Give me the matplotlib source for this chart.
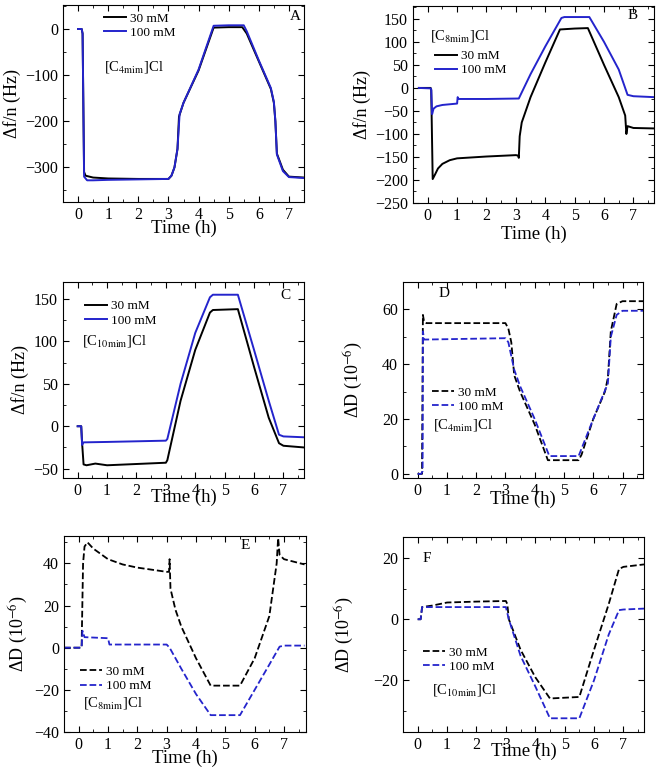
import matplotlib
matplotlib.use('Agg')
import matplotlib.pyplot as plt
from matplotlib.ticker import AutoMinorLocator, MultipleLocator

plt.rcParams['font.family'] = ['Liberation Serif', 'DejaVu Serif']
plt.rcParams['mathtext.fontset'] = 'stix'

# ---- data (time in h) ----
# A: [C4mim]Cl, frequency
a_t30 = [0, 0.12, 0.15, 0.2, 0.25, 0.5, 1, 2, 3, 3.1, 3.2, 3.3, 3.35, 3.5, 4, 4.5, 5, 5.45, 5.6, 6, 6.4, 6.5, 6.55, 6.6, 6.8, 7, 7.5]
a_f30 = [0, 0, -10, -310, -318, -322, -324, -325, -325, -318, -300, -260, -190, -160, -90, 3, 4, 4, -10, -70, -130, -160, -200, -270, -305, -320, -322]
a_t100 = [0, 0.12, 0.15, 0.2, 0.3, 0.5, 1, 2, 3, 3.1, 3.2, 3.3, 3.37, 3.5, 4, 4.5, 5, 5.5, 5.6, 6, 6.4, 6.5, 6.55, 6.6, 6.8, 7, 7.5]
a_f100 = [0, 0, -10, -320, -328, -328, -327, -326, -325, -318, -300, -260, -185, -160, -88, 7, 8, 8, -5, -68, -128, -158, -200, -272, -308, -321, -323]

# B: [C8mim]Cl, frequency
b_t30 = [-0.3, 0.1, 0.12, 0.17, 0.25, 0.35, 0.5, 0.75, 1, 2, 3, 3.08, 3.1, 3.13, 3.2, 3.5, 4, 4.5, 5, 5.45, 6, 6.5, 6.72, 6.76, 6.8, 7, 7.7]
b_f30 = [0, 0, -5, -198, -188, -175, -165, -157, -153, -149, -146, -147, -152, -105, -75, -20, 55, 127, 129, 130, 50, -20, -60, -100, -83, -87, -88]
b_t100 = [-0.3, 0.1, 0.12, 0.15, 0.2, 0.3, 0.5, 1, 1.02, 1.05, 1.1, 2, 3.1, 3.5, 4, 4.55, 4.65, 5.5, 6, 6.5, 6.8, 7, 7.7]
b_f100 = [0, -1, -3, -57, -45, -40, -37, -34, -20, -24, -24, -24, -23, 30, 90, 152, 154, 154, 100, 40, -15, -18, -20]

# C: [C10mim]Cl, frequency
c_t30 = [0, 0.12, 0.15, 0.2, 0.3, 0.6, 1, 2, 3, 3.05, 3.5, 4, 4.5, 4.6, 5.45, 6, 6.5, 6.85, 7, 7.7]
c_f30 = [0, 0, -20, -45, -46, -44, -46, -44.5, -43, -40, 30, 90, 134, 137, 138, 70, 10, -20, -23, -25]
c_t100 = [0, 0.12, 0.15, 0.2, 1, 3, 3.05, 3.5, 4, 4.5, 4.6, 5.45, 6, 6.5, 6.85, 7, 7.7]
c_f100 = [0, 0, -22, -19, -18.5, -17, -15, 50, 110, 152, 155, 155, 90, 30, -10, -12, -13]

# D: [C4mim]Cl, dissipation
d_t30 = [0, 0.15, 0.18, 0.22, 0.3, 3, 3.1, 3.2, 3.3, 3.5, 4, 4.45, 5.5, 5.6, 6, 6.4, 6.5, 6.6, 6.8, 7, 7.7]
d_d30 = [0, 0, 58, 55.5, 55, 55, 53, 48, 36, 30, 18, 5, 5, 7, 20, 30, 35, 52, 62, 63, 63]
d_t100 = [0, 0.12, 0.17, 0.18, 0.22, 3, 3.1, 3.3, 3.5, 4, 4.5, 5.5, 6, 6.5, 6.6, 6.8, 7, 7.7]
d_d100 = [0, 0, 1, 52, 49, 49.5, 48, 38, 32, 20, 6.5, 6.5, 20, 33, 50, 58, 59.5, 59.5]

# E: [C8mim]Cl, dissipation
e_t30 = [-0.5, 0.1, 0.15, 0.2, 0.3, 0.5, 1, 1.5, 2, 2.5, 3, 3.08, 3.1, 3.13, 3.3, 3.5, 4, 4.5, 5.5, 6, 6.5, 6.75, 6.8, 6.85, 7, 7.7]
e_d30 = [0, 0, 40, 48, 50, 47, 42, 39.5, 38, 37, 36, 36, 42, 28, 18, 10, -5, -18, -18, -5, 15, 40, 52, 44, 42, 39.5]
e_t100 = [-0.5, 0.1, 0.13, 0.2, 1, 1.05, 3, 3.1, 3.5, 4, 4.5, 5.5, 6, 6.5, 6.85, 7, 7.7]
e_d100 = [0, 0, 8, 5, 4.5, 1.5, 1.5, 0, -10, -22, -32, -32, -20, -8, 0.5, 1, 1]

# F: [C10mim]Cl, dissipation
f_t30 = [0, 0.1, 0.15, 0.5, 1, 2, 3, 3.05, 3.1, 3.5, 4, 4.5, 5.5, 6, 6.5, 6.85, 7, 7.7]
f_d30 = [0, 0, 4, 4.5, 5.5, 5.8, 6, 5, 0, -10, -19, -26, -25.5, -10, 5, 16.5, 17.2, 18]
f_t100 = [0, 0.1, 0.15, 3, 3.1, 3.5, 4, 4.5, 5.5, 6, 6.5, 6.85, 7, 7.7]
f_d100 = [0, 0, 4, 4, 0, -12, -22, -32.5, -32.5, -20, -5, 3, 3.2, 3.5]

labels = ['30 mM', '100 mM']
BLUE = '#2424cc'
W, H = 660, 773
fig = plt.figure(figsize=(W / 100, H / 100), dpi=100)


def make_ax(l, t, r, b):
    ax = fig.add_axes([l / W, 1 - b / H, (r - l) / W, (b - t) / H])
    ax.tick_params(direction='in', top=True, right=True, labelsize=11.5, length=4)
    ax.tick_params(which='minor', direction='in', top=True, right=True, length=2)
    ax.xaxis.set_major_locator(MultipleLocator(1))
    ax.xaxis.set_minor_locator(AutoMinorLocator(2))
    ax.yaxis.set_minor_locator(AutoMinorLocator(2))
    for s in ax.spines.values():
        s.set_linewidth(0.8)
    return ax


def decorate(ax, letter, lpos, name, npos, legpos, ylab, xpad, ypad):
    ax.set_ylabel(ylab, fontsize=13, labelpad=ypad)
    ax.set_xlabel('Time (h)', fontsize=13.5, labelpad=xpad)
    ax.legend(loc='center left', bbox_to_anchor=legpos, frameon=False, fontsize=9.5,
              handlelength=1.7, handletextpad=0.3, labelspacing=0.15,
              borderaxespad=0, borderpad=0)
    ax.text(lpos[0], lpos[1], letter, transform=ax.transAxes, fontsize=11, va='center')
    ax.text(npos[0], npos[1], name, transform=ax.transAxes, fontsize=10.5, va='center')


# --- A ---
ax = make_ax(63, 5, 304, 202)
ax.plot(a_t30, a_f30, color='black', lw=1.4, label=labels[0])
ax.plot(a_t100, a_f100, color=BLUE, lw=1.4, label=labels[1])
ax.set_xlim(-0.5, 7.5)
ax.set_ylim(-375, 52)
ax.yaxis.set_major_locator(MultipleLocator(100))
decorate(ax, 'A', (0.94, 0.94), '[C$_{\\mathrm{4mim}}$]Cl', (0.17, 0.685), (0.17, 0.895),
         'Δf/n (Hz)', -2, 3)

# --- B ---
ax = make_ax(413, 6, 654, 203)
ax.plot(b_t30, b_f30, color='black', lw=1.4, label=labels[0])
ax.plot(b_t100, b_f100, color=BLUE, lw=1.4, label=labels[1])
ax.set_xlim(-0.5, 7.7)
ax.set_ylim(-250, 178)
ax.yaxis.set_major_locator(MultipleLocator(50))
decorate(ax, 'B', (0.89, 0.95), '[C$_{\\mathrm{8mim}}$]Cl', (0.07, 0.85), (0.09, 0.71),
         'Δf/n (Hz)', 1, 3)

# --- C ---
ax = make_ax(63, 282, 304, 478)
ax.plot(c_t30, c_f30, color='black', lw=1.4, label=labels[0])
ax.plot(c_t100, c_f100, color=BLUE, lw=1.4, label=labels[1])
ax.set_xlim(-0.5, 7.7)
ax.set_ylim(-61, 170)
ax.yaxis.set_major_locator(MultipleLocator(50))
decorate(ax, 'C', (0.9, 0.93), '[C$_{\\mathrm{10mim}}$]Cl', (0.08, 0.70), (0.09, 0.84),
         'Δf/n (Hz)', -7, 3)

# --- D ---
ax = make_ax(403, 282, 643, 478)
ax.plot(d_t30, d_d30, color='black', lw=1.3, ls='--', label=labels[0])
ax.plot(d_t100, d_d100, color=BLUE, lw=1.3, ls='--', label=labels[1])
ax.set_xlim(-0.5, 7.7)
ax.set_ylim(-1.5, 70)
ax.yaxis.set_major_locator(MultipleLocator(20))
decorate(ax, 'D', (0.146, 0.94), '[C$_{\\mathrm{4mim}}$]Cl', (0.125, 0.27), (0.12, 0.40),
         'ΔD (10$^{-6}$)', -6, 12)

# --- E ---
ax = make_ax(64, 536, 306, 732)
ax.plot(e_t30, e_d30, color='black', lw=1.3, ls='--', label=labels[0])
ax.plot(e_t100, e_d100, color=BLUE, lw=1.3, ls='--', label=labels[1])
ax.set_xlim(-0.5, 7.75)
ax.set_ylim(-40, 53)
ax.yaxis.set_major_locator(MultipleLocator(20))
decorate(ax, 'E', (0.73, 0.95), '[C$_{\\mathrm{8mim}}$]Cl', (0.08, 0.15), (0.066, 0.27),
         'ΔD (10$^{-6}$)', -2, 3)

# --- F ---
ax = make_ax(403, 537, 644, 732)
ax.plot(f_t30, f_d30, color='black', lw=1.3, ls='--', label=labels[0])
ax.plot(f_t100, f_d100, color=BLUE, lw=1.3, ls='--', label=labels[1])
ax.set_xlim(-0.5, 7.7)
ax.set_ylim(-37, 27)
ax.yaxis.set_major_locator(MultipleLocator(20))
decorate(ax, 'F', (0.083, 0.89), '[C$_{\\mathrm{10mim}}$]Cl', (0.12, 0.215), (0.083, 0.37),
         'ΔD (10$^{-6}$)', -7, 12)

fig.savefig('out.png', dpi=100)
